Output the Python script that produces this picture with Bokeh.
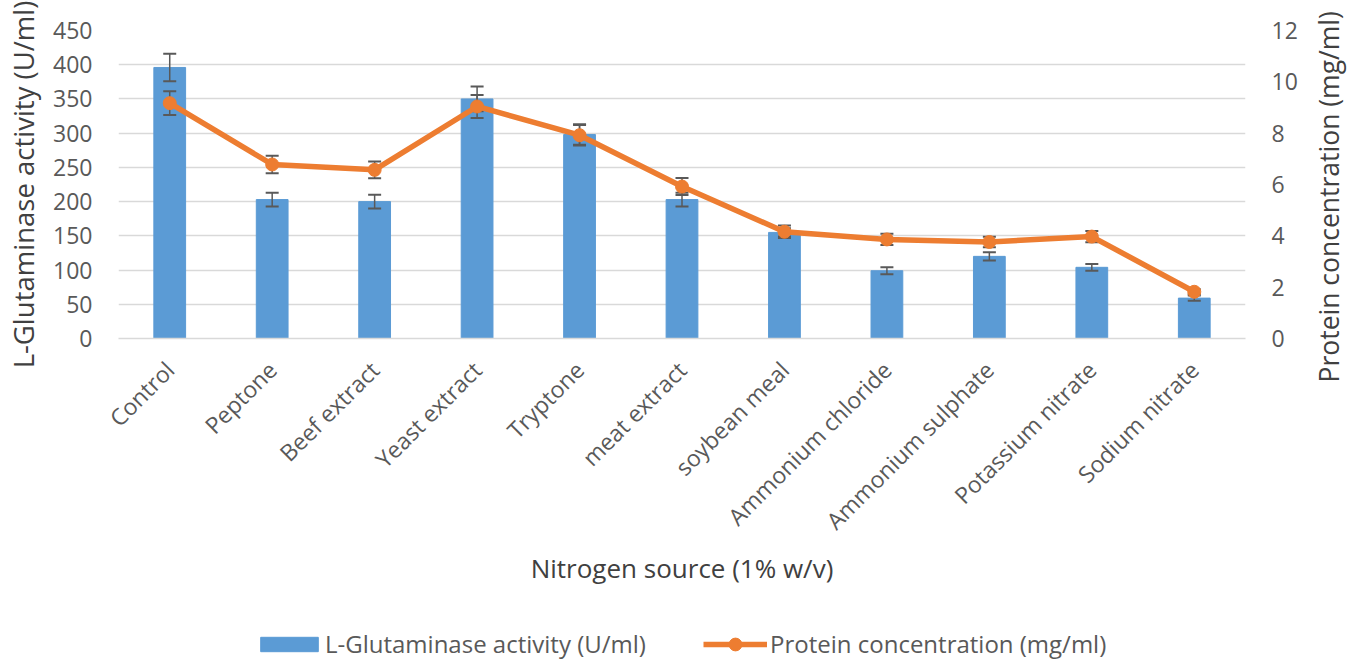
from math import pi

from bokeh.embed import file_html
from bokeh.layouts import column, row
from bokeh.models import (ColumnDataSource, FactorRange, FixedTicker, Legend,
                          LegendItem, LinearAxis, Range1d, Title)
from bokeh.plotting import figure
from bokeh.resources import INLINE

# Nitrogen sources tested (1% w/v)
sources = ["Control", "Peptone", "Beef extract", "Yeast extract", "Tryptone",
           "meat extract", "soybean meal", "Ammonium chloride",
           "Ammonium sulphate", "Potassium nitrate", "Sodium nitrate"]

# L-Glutaminase activity (U/ml) and its standard error
activity = [396, 203, 200, 350, 298, 203, 155, 99, 120, 104, 59]
activity_err = [20, 10, 10, 18, 15, 10, 6, 5, 6, 5, 4]

# Protein concentration (mg/ml) and its standard error
protein = [9.17, 6.78, 6.57, 9.04, 7.92, 5.92, 4.16, 3.86, 3.76, 3.97, 1.82]
protein_err = [0.46, 0.34, 0.33, 0.45, 0.40, 0.33, 0.24, 0.22, 0.20, 0.22, 0.10]

left_ticks = [0, 50, 100, 150, 200, 250, 300, 350, 400, 450]
right_ticks = [0, 2, 4, 6, 8, 10, 12]

FONT = "Open Sans"
BLUE = "#5B9BD5"
ORANGE = "#ED7D31"
ERR = "#595959"
TICK = "#595959"
TITLE = "#404040"
GRID = "#D9D9D9"

src = ColumnDataSource(dict(
    x=sources,
    act=activity,
    act_lo=[a - e for a, e in zip(activity, activity_err)],
    act_hi=[a + e for a, e in zip(activity, activity_err)],
    prot=protein,
    prot_lo=[a - e for a, e in zip(protein, protein_err)],
    prot_hi=[a + e for a, e in zip(protein, protein_err)],
))

x_range = FactorRange(*sources, range_padding=0)

# ---------------------------------------------------------------- main chart
p = figure(
    width=1300, height=616,
    x_range=x_range, y_range=Range1d(0, 450),
    output_backend="svg", toolbar_location=None,
    min_border_left=118, min_border_right=53,
    min_border_top=30, min_border_bottom=278,
)
p.extra_y_ranges = {"right": Range1d(0, 12)}
p.outline_line_color = None

# Bars: enzyme activity
p.vbar(x="x", top="act", width=0.31, source=src,
       fill_color=BLUE, line_color=BLUE)

# Error bars for the activity
p.segment(x0="x", y0="act_lo", x1="x", y1="act_hi", source=src,
          line_color=ERR, line_width=1.5)
p.scatter(x="x", y="act_lo", source=src, marker="dash", size=13,
          line_color=ERR, line_width=2)
p.scatter(x="x", y="act_hi", source=src, marker="dash", size=13,
          line_color=ERR, line_width=2)

# Error bars for the protein concentration
p.segment(x0="x", y0="prot_lo", x1="x", y1="prot_hi", source=src,
          line_color=ERR, line_width=1.5, y_range_name="right")
p.scatter(x="x", y="prot_lo", source=src, marker="dash", size=13,
          line_color=ERR, line_width=2, y_range_name="right")
p.scatter(x="x", y="prot_hi", source=src, marker="dash", size=13,
          line_color=ERR, line_width=2, y_range_name="right")

# Line with markers: protein concentration
p.line(x="x", y="prot", source=src, line_color=ORANGE, line_width=5.5,
       y_range_name="right")
p.scatter(x="x", y="prot", source=src, marker="circle", size=13,
          fill_color=ORANGE, line_color=ORANGE, y_range_name="right")

# Grid
p.xgrid.grid_line_color = None
p.ygrid.grid_line_color = GRID
p.ygrid.grid_line_width = 1.5
p.ygrid.ticker = FixedTicker(ticks=left_ticks)

# Left axis
ya = p.yaxis[0]
ya.ticker = FixedTicker(ticks=left_ticks)
ya.axis_line_color = None
ya.major_tick_line_color = None
ya.minor_tick_line_color = None
ya.major_tick_out = 0
ya.major_label_text_font = FONT
ya.major_label_text_font_size = "23px"
ya.major_label_text_color = TICK
ya.major_label_standoff = 26
ya.axis_label = "L-Glutaminase activity (U/ml)"
ya.axis_label_text_font = FONT
ya.axis_label_text_font_size = "27.5px"
ya.axis_label_text_font_style = "normal"
ya.axis_label_text_color = TITLE
ya.axis_label_standoff = 8

# Right axis
ra = LinearAxis(y_range_name="right", ticker=FixedTicker(ticks=right_ticks))
ra.axis_line_color = None
ra.major_tick_line_color = None
ra.minor_tick_line_color = None
ra.major_tick_out = 0
ra.major_label_text_font = FONT
ra.major_label_text_font_size = "23px"
ra.major_label_text_color = TICK
ra.major_label_standoff = 26
p.add_layout(ra, "right")

# Bottom axis
xa = p.xaxis[0]
xa.axis_line_color = GRID
xa.axis_line_width = 1.5
xa.major_tick_line_color = None
xa.minor_tick_line_color = None
xa.major_tick_out = 0
xa.major_label_orientation = pi / 4
xa.major_label_text_font = FONT
xa.major_label_text_font_size = "23px"
xa.major_label_text_color = TICK
xa.major_label_standoff = 27
xa.axis_label = "Nitrogen source (1% w/v)"
xa.axis_label_text_font = FONT
xa.axis_label_text_font_size = "26px"
xa.axis_label_text_font_style = "normal"
xa.axis_label_text_color = TITLE
xa.axis_label_standoff = 0

# ------------------------------------ right-hand axis title, bottom to top
side = figure(width=48, height=616, x_axis_type=None, y_axis_type=None,
              output_backend="svg", toolbar_location=None,
              min_border=0, min_border_left=46)
side.outline_line_color = None
side.add_layout(Title(
    text="Protein concentration (mg/ml)", align="left", offset=-44,
    standoff=0, text_font=FONT, text_font_size="26.5px",
    text_font_style="normal", text_color=TITLE,
), "left")

# ----------------------------------------------------------- legend strip
leg = figure(width=1348, height=44, x_range=x_range, y_range=Range1d(0, 1),
             x_axis_type=None, y_axis_type=None,
             output_backend="svg", toolbar_location=None, min_border=0)
leg.outline_line_color = None
leg_bar = leg.vbar(x="x", top="act", width=0.31, source=src,
                   fill_color=BLUE, line_color=BLUE, visible=False)
leg_line = leg.line(x="x", y="prot", source=src, line_color=ORANGE,
                    line_width=5.5, visible=False)
leg_pts = leg.scatter(x="x", y="prot", source=src, marker="circle", size=13,
                      fill_color=ORANGE, line_color=ORANGE, visible=False)

common = dict(
    orientation="horizontal", padding=0, margin=0,
    label_text_font=FONT, label_text_font_size="24px", label_text_color=TICK,
    background_fill_alpha=0, border_line_color=None,
)
leg.add_layout(Legend(
    items=[LegendItem(label="L-Glutaminase activity (U/ml)", renderers=[leg_bar])],
    location=(253, 0), glyph_width=72, glyph_height=18, label_standoff=0,
    **common,
), "center")
leg.add_layout(Legend(
    items=[LegendItem(label="Protein concentration (mg/ml)",
                      renderers=[leg_line, leg_pts])],
    location=(703, 0), glyph_width=64, glyph_height=32, label_standoff=3,
    **common,
), "center")

layout = column(row(p, side), leg)

open("out.html", "w").write(file_html(layout, INLINE))
